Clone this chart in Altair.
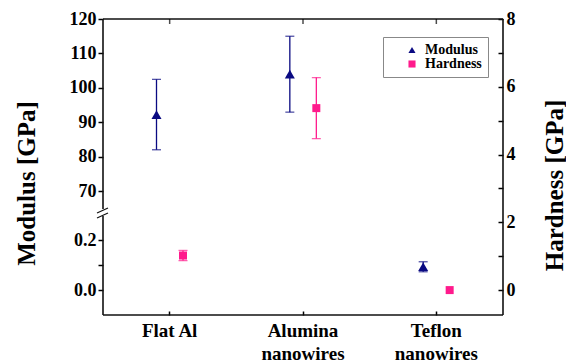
import altair as alt
import pandas as pd

categories = ["Flat Al", "Alumina nanowires", "Teflon nanowires"]
modulus = [92.3, 104.0, 0.093]
modulus_err = [10.2, 11.0, 0.02]
hardness = [1.02, 5.37, 0.0]
hardness_err = [0.15, 0.9, 0.0]

series_names = ["Modulus", "Hardness"]
series_colors = ["#0a0a82", "#ff1a8c"]
series_shapes = ["triangle-up", "square"]

FONT = "Liberation Serif"

mod_df = pd.DataFrame({"category": categories, "value": modulus, "err": modulus_err, "series": "Modulus"})
hard_df = pd.DataFrame({"category": categories, "value": hardness, "err": hardness_err, "series": "Hardness"})
for d in (mod_df, hard_df):
    d["low"] = d["value"] - d["err"]
    d["high"] = d["value"] + d["err"]

mod_top = mod_df[mod_df["value"] > 1]
mod_bot = mod_df[mod_df["value"] <= 1]

x_enc = alt.X(
    "category:N", sort=categories,
    scale=alt.Scale(type="band", paddingInner=0, paddingOuter=0),
    axis=alt.Axis(orient="bottom", offset=-4, tickSize=4, tickWidth=1.5, tickColor="black",
                  domain=False, grid=False, labelAngle=0, labelFont=FONT, labelFontSize=19,
                  labelFontWeight="bold", labelColor="black", labelPadding=6, labelLineHeight=23,
                  labelExpr="indexof(datum.label, 'nanowires') > 0 ? split(datum.label, ' ') : datum.label",
                  title=None),
)
xo_enc = alt.XOffset("series:N", scale=alt.Scale(type="point", domain=series_names, range=[53.5, 80], padding=0))
color_enc = alt.Color("series:N", scale=alt.Scale(domain=series_names, range=series_colors), title=None)
shape_enc = alt.Shape("series:N", scale=alt.Scale(domain=series_names, range=series_shapes), title=None)


def series_layer(df, yscale, yaxis, color, size):
    base = alt.Chart(df).encode(x=x_enc, xOffset=xo_enc)
    eb = df[df["err"] > 0]
    ebase = alt.Chart(eb).encode(x=x_enc, xOffset=xo_enc)
    rule = ebase.mark_rule(strokeWidth=1.3, color=color).encode(
        y=alt.Y("low:Q", scale=yscale, axis=yaxis), y2="high:Q")
    cap_lo = ebase.mark_tick(thickness=1.3, size=9, color=color, orient="horizontal").encode(
        y=alt.Y("low:Q", scale=yscale, axis=yaxis))
    cap_hi = ebase.mark_tick(thickness=1.3, size=9, color=color, orient="horizontal").encode(
        y=alt.Y("high:Q", scale=yscale, axis=yaxis))
    pts = base.mark_point(filled=True, opacity=1, size=size).encode(
        y=alt.Y("value:Q", scale=yscale, axis=yaxis), color=color_enc, shape=shape_enc)
    return alt.layer(rule, cap_lo, cap_hi, pts)


left_common = dict(orient="left", domain=False, grid=False, tickSize=5, tickWidth=1.5, tickColor="black",
                   labelFont=FONT, labelFontSize=18, labelFontWeight="bold", labelColor="black",
                   labelPadding=2)

top_axis = alt.Axis(values=[70, 80, 90, 100, 110, 120], title="Modulus [GPa]",
                    titleFont=FONT, titleFontSize=25, titleFontWeight="bold", titleColor="black",
                    titleX=-77, titleY=164, titleAngle=270, titleAlign="center", titleBaseline="middle",
                    **left_common)
bot_axis = alt.Axis(values=[0, 0.1, 0.2], title=None,
                    labelExpr="datum.value > 0.05 && datum.value < 0.15 ? '' : format(datum.value, '.1f')",
                    **left_common)
right_axis = alt.Axis(orient="right", values=[0, 1, 2, 3, 4, 5, 6, 7, 8], offset=-5, tickSize=5,
                      tickWidth=1.5, tickColor="black", domain=False, grid=False,
                      labelExpr="datum.value % 2 == 0 ? format(datum.value, 'd') : ''",
                      labelFont=FONT, labelFontSize=18, labelFontWeight="bold", labelColor="black",
                      labelPadding=3, title="Hardness [GPa]", titleFont=FONT, titleFontSize=25,
                      titleFontWeight="bold", titleColor="black", titleX=56, titleY=166,
                      titleAngle=270, titleAlign="center", titleBaseline="middle")

top_scale = alt.Scale(domain=[34.2, 120], nice=False, zero=False)
bot_scale = alt.Scale(domain=[-0.1, 1.084], nice=False, zero=False)
hard_scale = alt.Scale(domain=[-0.735, 8], nice=False, zero=False)

mod_top_layer = series_layer(mod_top, top_scale, top_axis, series_colors[0], 100)
mod_bot_layer = series_layer(mod_bot, bot_scale, bot_axis, series_colors[0], 100)
hard_layer = series_layer(hard_df, hard_scale, right_axis, series_colors[1], 64)

frame_df = pd.DataFrame({"k": [0]})
fb = alt.Chart(frame_df)
sw = 1.6
fc = "#111111"
top_line = fb.mark_rule(color=fc, strokeWidth=sw).encode(x=alt.value(0), x2=alt.value(400), y=alt.value(0))
bottom_line = fb.mark_rule(color=fc, strokeWidth=sw).encode(x=alt.value(0), x2=alt.value(400), y=alt.value(296))
right_line = fb.mark_rule(color=fc, strokeWidth=sw).encode(x=alt.value(400), y=alt.value(0), y2=alt.value(296))
left_up = fb.mark_rule(color=fc, strokeWidth=sw).encode(x=alt.value(0), y=alt.value(0), y2=alt.value(190))
left_lo = fb.mark_rule(color=fc, strokeWidth=sw).encode(x=alt.value(0), y=alt.value(197), y2=alt.value(296))
slash1 = fb.mark_rule(color=fc, strokeWidth=1.2).encode(x=alt.value(-6), x2=alt.value(5), y=alt.value(194), y2=alt.value(189))
slash2 = fb.mark_rule(color=fc, strokeWidth=1.2).encode(x=alt.value(-6), x2=alt.value(5), y=alt.value(199), y2=alt.value(194))

top_ticks = alt.Chart(pd.DataFrame({"category": categories})).mark_tick(
    orient="vertical", size=5, thickness=1.5, color="black").encode(x=x_enc, y=alt.value(2.5))

chart = alt.layer(
    mod_top_layer, mod_bot_layer, hard_layer,
    top_line, bottom_line, right_line, left_up, left_lo, slash1, slash2, top_ticks,
).resolve_scale(y="independent").properties(
    width=400, height=296,
    autosize=alt.AutoSizeParams(type="none"),
    padding={"left": 95, "top": 11, "right": 63, "bottom": 47},
).configure_view(stroke=None).configure_axis(
    labelFont=FONT, titleFont=FONT, labelFontWeight="bold", titleFontWeight="bold",
).configure_legend(
    orient="none", legendX=280, legendY=18, strokeColor="#888888", fillColor="white",
    padding=6, labelFont=FONT, labelFontSize=14, labelFontWeight="bold", labelColor="black",
    symbolSize=50, rowPadding=0, labelOffset=6, symbolOffset=16, cornerRadius=0,
)

chart.save("out.html", embed_options={"renderer": "svg", "actions": False})
